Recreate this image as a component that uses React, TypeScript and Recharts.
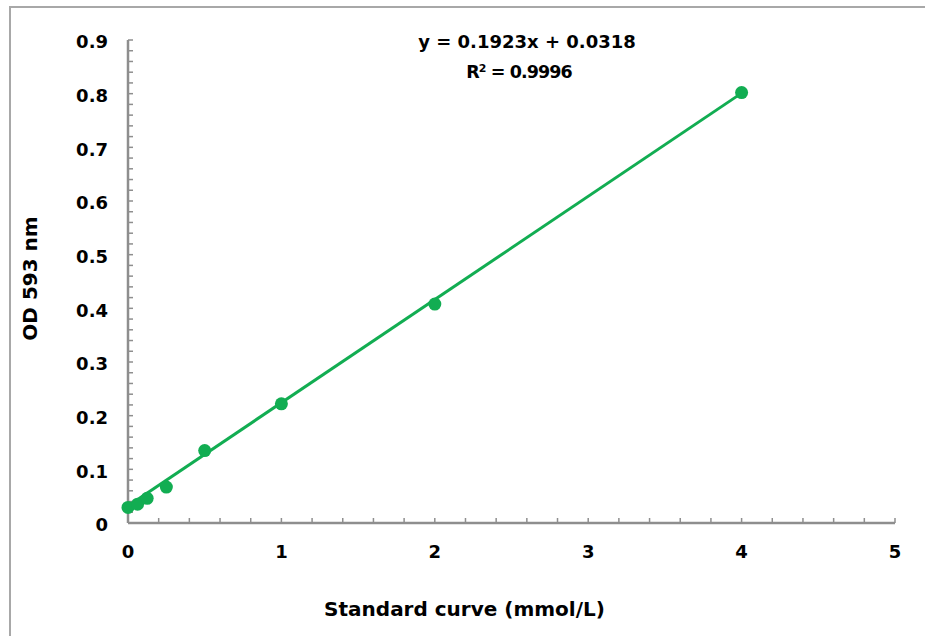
import React from "react";
import { ScatterChart, Scatter, XAxis, YAxis } from "recharts";

const concX = [0, 0.0625, 0.125, 0.25, 0.5, 1, 2, 4];
const odY = [0.029, 0.035, 0.046, 0.067, 0.135, 0.222, 0.408, 0.802];
const trendX = [0, 4];
const trendY = [0.0318, 0.801];
const xTicks = [0, 0.2, 0.4, 0.6, 0.8, 1, 1.2, 1.4, 1.6, 1.8, 2, 2.2, 2.4, 2.6, 2.8, 3, 3.2, 3.4, 3.6, 3.8, 4, 4.2, 4.4, 4.6, 4.8, 5];
const yTicks = [0, 0.02, 0.04, 0.06, 0.08, 0.1, 0.12, 0.14, 0.16, 0.18, 0.2, 0.22, 0.24, 0.26, 0.28, 0.3, 0.32, 0.34, 0.36, 0.38, 0.4, 0.42, 0.44, 0.46, 0.48, 0.5, 0.52, 0.54, 0.56, 0.58, 0.6, 0.62, 0.64, 0.66, 0.68, 0.7, 0.72, 0.74, 0.76, 0.78, 0.8, 0.82, 0.84, 0.86, 0.88, 0.9];
const equationText = "y = 0.1923x + 0.0318";
const r2Label = "0.9996";
const xTitle = "Standard curve (mmol/L)";
const yTitle = "OD 593 nm";

const GREEN = "#12ad52";
const AXIS = "#8e8e8e";
const FONT = "'DejaVu Sans', Verdana, sans-serif";

const points = concX.map((x, i) => ({ x, y: odY[i] }));
const trend = trendX.map((x, i) => ({ x, y: trendY[i] }));

const isMult = (v: number, step: number) => Math.abs(v / step - Math.round(v / step)) < 1e-6;

const tickStyle = { fill: "#000", fontSize: 18, fontWeight: "bold", fontFamily: FONT };

export default function App() {
  return (
    <div style={{ position: "absolute", left: 0, top: 0, width: 925, height: 636, background: "#fff", overflow: "hidden" }}>
      <div style={{ position: "absolute", left: 9, top: 6, width: 940, height: 660, borderLeft: "2px solid #a8a8a8", borderTop: "2px solid #a8a8a8" }} />
      <div style={{ position: "absolute", left: 0, top: 0 }}>
        <ScatterChart width={925} height={636} margin={{ top: 40, right: 30, bottom: 18, left: 0 }}>
          <XAxis
            type="number"
            dataKey="x"
            domain={[0, 5]}
            ticks={xTicks}
            interval={0}
            tickFormatter={(v: number) => (isMult(v, 1) ? String(Math.round(v)) : "")}
            height={95}
            axisLine={{ stroke: AXIS, strokeWidth: 2.5 }}
            tickLine={{ stroke: AXIS, strokeWidth: 1.5 }}
            tickSize={-5}
            tickMargin={27}
            tick={tickStyle}
            label={{ value: xTitle, position: "center", dx: -47, dy: 38, fill: "#000", fontSize: 20, fontWeight: "bold", fontFamily: FONT }}
          />
          <YAxis
            type="number"
            dataKey="y"
            domain={[0, 0.9]}
            ticks={yTicks}
            interval={0}
            tickFormatter={(v: number) => (isMult(v, 0.1) ? (Math.abs(v) < 1e-9 ? "0" : v.toFixed(1)) : "")}
            width={128}
            axisLine={{ stroke: AXIS, strokeWidth: 2.5 }}
            tickLine={{ stroke: AXIS, strokeWidth: 1.5 }}
            tickSize={-5}
            tickMargin={25}
            tick={{ ...tickStyle, dy: 2 }}
            label={{ value: yTitle, angle: -90, position: "center", dx: -34, dy: -3, fill: "#000", fontSize: 20, fontWeight: "bold", fontFamily: FONT }}
          />
          <Scatter
            data={trend}
            line={{ stroke: GREEN, strokeWidth: 3 }}
            shape={() => <g />}
            isAnimationActive={false}
            legendType="none"
          />
          <Scatter
            data={points}
            fill={GREEN}
            shape={(p: any) => <circle cx={p.cx} cy={p.cy} r={6.5} fill={GREEN} />}
            isAnimationActive={false}
          />
        </ScatterChart>
      </div>
      <div
        style={{
          position: "absolute",
          left: 377,
          top: 26,
          width: 300,
          textAlign: "center",
          fontFamily: FONT,
          fontWeight: "bold",
          fontSize: 18,
          lineHeight: "31px",
          color: "#000",
        }}
      >
        <div>{equationText}</div>
        <div style={{ marginLeft: -16, fontSize: 17.5, letterSpacing: -0.9 }}>
          R<sup style={{ fontSize: 11, verticalAlign: "top", position: "relative", top: -4 }}>2</sup> = {r2Label}
        </div>
      </div>
    </div>
  );
}
